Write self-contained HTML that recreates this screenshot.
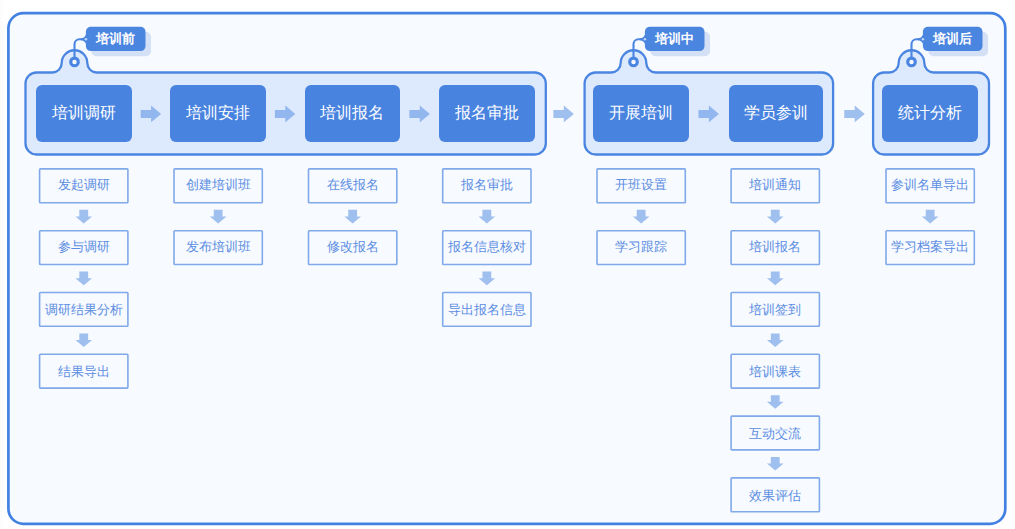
<!DOCTYPE html>
<html><head><meta charset="utf-8"><style>
html,body{margin:0;padding:0;background:#ffffff;}
body{width:1015px;height:529px;position:relative;overflow:hidden;font-family:"Liberation Sans",sans-serif;}
#wrap{position:absolute;left:0;top:0;width:1015px;height:529px;}
svg{position:absolute;left:0;top:0;}
.mb,.sb,.tag{position:absolute;box-sizing:border-box;text-align:center;white-space:nowrap;}
.mb{background:#4883df;color:#fff;font-size:16px;border-radius:6px;}
.sb{color:#5b8de2;font-size:13px;}
.tag{color:#fff;font-size:13px;font-weight:bold;}
</style></head><body><div style="position:absolute;left:0;top:0;width:1px;height:529px;background:#fbfbfb"></div><div style="position:absolute;left:1px;top:0;width:2px;height:529px;background:#fdfdfd"></div><div id="wrap">
<svg width="1015" height="529" viewBox="0 0 1015 529"><defs><filter id="sh" x="-20%" y="-40%" width="140%" height="180%"><feGaussianBlur stdDeviation="0.6"/></filter></defs>
<rect x="8.4" y="13.2" width="996.9" height="510.59999999999997" rx="15" ry="15" fill="#f7faff" stroke="#4281e2" stroke-width="2.7"/>
<path d="M25.5,83.5 A11,11 0 0 1 36.5,72.5 L52.300000000000004,72.5 A9.4,9.4 0 0 0 61.7,63.1 A12.8,12.85 0 0 1 87.3,63.1 A9.4,9.4 0 0 0 96.7,72.5 L534.8,72.5 A11,11 0 0 1 545.8,83.5 L545.8,143.5 A11,11 0 0 1 534.8,154.5 L36.5,154.5 A11,11 0 0 1 25.5,143.5 Z" fill="#dde9fc" stroke="#4a86e1" stroke-width="2.3"/>
<circle cx="74.5" cy="61.9" r="3.8" fill="#f5f9ff" stroke="#4a86e1" stroke-width="3.1"/>
<path d="M74.5,56.9 L74.5,44.2 A5,5 0 0 1 79.5,39.2 L86.9,39.2" fill="none" stroke="#4a86e1" stroke-width="2.1"/>
<path d="M80.9,38.2 Q84.4,38.2 85.9,34.7 L87.9,34.7 L87.9,43.7 L85.9,43.7 Q84.4,40.2 80.9,40.2 Z" fill="#4a85e0"/>
<rect x="91.4" y="32.0" width="59.6" height="24.3" rx="5" fill="#d3e0f6" filter="url(#sh)"/>
<rect x="85.9" y="26.8" width="59.6" height="24.3" rx="5" fill="#4a85e0"/>
<circle cx="85.9" cy="39.2" r="1.3" fill="rgba(255,255,255,0.65)"/>
<path d="M584.6,83.5 A11,11 0 0 1 595.6,72.5 L611.3000000000001,72.5 A9.4,9.4 0 0 0 620.7,63.1 A12.8,12.85 0 0 1 646.3,63.1 A9.4,9.4 0 0 0 655.6999999999999,72.5 L822.1,72.5 A11,11 0 0 1 833.1,83.5 L833.1,143.5 A11,11 0 0 1 822.1,154.5 L595.6,154.5 A11,11 0 0 1 584.6,143.5 Z" fill="#dde9fc" stroke="#4a86e1" stroke-width="2.3"/>
<circle cx="633.5" cy="61.9" r="3.8" fill="#f5f9ff" stroke="#4a86e1" stroke-width="3.1"/>
<path d="M633.5,56.9 L633.5,44.2 A5,5 0 0 1 638.5,39.2 L645.9,39.2" fill="none" stroke="#4a86e1" stroke-width="2.1"/>
<path d="M639.9,38.2 Q643.4,38.2 644.9,34.7 L646.9,34.7 L646.9,43.7 L644.9,43.7 Q643.4,40.2 639.9,40.2 Z" fill="#4a85e0"/>
<rect x="650.4" y="32.0" width="59.6" height="24.3" rx="5" fill="#d3e0f6" filter="url(#sh)"/>
<rect x="644.9" y="26.8" width="59.6" height="24.3" rx="5" fill="#4a85e0"/>
<circle cx="644.9" cy="39.2" r="1.3" fill="rgba(255,255,255,0.65)"/>
<path d="M873.1,83.5 A11,11 0 0 1 884.1,72.5 L889.3000000000001,72.5 A9.4,9.4 0 0 0 898.7,63.1 A12.8,12.85 0 0 1 924.3,63.1 A9.4,9.4 0 0 0 933.6999999999999,72.5 L978.0,72.5 A11,11 0 0 1 989.0,83.5 L989.0,143.5 A11,11 0 0 1 978.0,154.5 L884.1,154.5 A11,11 0 0 1 873.1,143.5 Z" fill="#dde9fc" stroke="#4a86e1" stroke-width="2.3"/>
<circle cx="911.5" cy="61.9" r="3.8" fill="#f5f9ff" stroke="#4a86e1" stroke-width="3.1"/>
<path d="M911.5,56.9 L911.5,44.2 A5,5 0 0 1 916.5,39.2 L923.9,39.2" fill="none" stroke="#4a86e1" stroke-width="2.1"/>
<path d="M917.9,38.2 Q921.4,38.2 922.9,34.7 L924.9,34.7 L924.9,43.7 L922.9,43.7 Q921.4,40.2 917.9,40.2 Z" fill="#4a85e0"/>
<rect x="928.4" y="32.0" width="59.6" height="24.3" rx="5" fill="#d3e0f6" filter="url(#sh)"/>
<rect x="922.9" y="26.8" width="59.6" height="24.3" rx="5" fill="#4a85e0"/>
<circle cx="922.9" cy="39.2" r="1.3" fill="rgba(255,255,255,0.65)"/>
<path d="M140.7,109.9 L151.1,109.9 L151.1,105.60000000000001 L161.1,113.9 L151.1,122.2 L151.1,117.9 L140.7,117.9 Z" fill="rgba(72,131,223,0.5)"/>
<path d="M274.9,109.9 L285.29999999999995,109.9 L285.29999999999995,105.60000000000001 L295.29999999999995,113.9 L285.29999999999995,122.2 L285.29999999999995,117.9 L274.9,117.9 Z" fill="rgba(72,131,223,0.5)"/>
<path d="M409.4,109.9 L419.79999999999995,109.9 L419.79999999999995,105.60000000000001 L429.79999999999995,113.9 L419.79999999999995,122.2 L419.79999999999995,117.9 L409.4,117.9 Z" fill="rgba(72,131,223,0.5)"/>
<path d="M553.4,109.9 L563.8,109.9 L563.8,105.60000000000001 L573.8,113.9 L563.8,122.2 L563.8,117.9 L553.4,117.9 Z" fill="rgba(72,131,223,0.5)"/>
<path d="M698.5,109.9 L708.9,109.9 L708.9,105.60000000000001 L718.9,113.9 L708.9,122.2 L708.9,117.9 L698.5,117.9 Z" fill="rgba(72,131,223,0.5)"/>
<path d="M844.3,109.9 L854.6999999999999,109.9 L854.6999999999999,105.60000000000001 L864.6999999999999,113.9 L854.6999999999999,122.2 L854.6999999999999,117.9 L844.3,117.9 Z" fill="rgba(72,131,223,0.5)"/>
<rect x="39.6" y="168.89999999999998" width="88.3" height="33.8" rx="0.8" fill="none" stroke="#80a9ea" stroke-width="1.6"/>
<path d="M79.35,209.79999999999998 L88.15,209.79999999999998 L88.15,216.39999999999998 L92.05,216.39999999999998 L83.75,223.39999999999998 L75.45,216.39999999999998 L79.35,216.39999999999998 Z" fill="rgba(72,131,223,0.5)"/>
<rect x="39.6" y="230.7" width="88.3" height="33.8" rx="0.8" fill="none" stroke="#80a9ea" stroke-width="1.6"/>
<path d="M79.35,271.59999999999997 L88.15,271.59999999999997 L88.15,278.2 L92.05,278.2 L83.75,285.2 L75.45,278.2 L79.35,278.2 Z" fill="rgba(72,131,223,0.5)"/>
<rect x="39.6" y="292.49999999999994" width="88.3" height="33.8" rx="0.8" fill="none" stroke="#80a9ea" stroke-width="1.6"/>
<path d="M79.35,333.3999999999999 L88.15,333.3999999999999 L88.15,339.99999999999994 L92.05,339.99999999999994 L83.75,346.99999999999994 L75.45,339.99999999999994 L79.35,339.99999999999994 Z" fill="rgba(72,131,223,0.5)"/>
<rect x="39.6" y="354.29999999999995" width="88.3" height="33.8" rx="0.8" fill="none" stroke="#80a9ea" stroke-width="1.6"/>
<rect x="174.0" y="168.89999999999998" width="88.3" height="33.8" rx="0.8" fill="none" stroke="#80a9ea" stroke-width="1.6"/>
<path d="M213.75,209.79999999999998 L222.55,209.79999999999998 L222.55,216.39999999999998 L226.45000000000002,216.39999999999998 L218.15,223.39999999999998 L209.85,216.39999999999998 L213.75,216.39999999999998 Z" fill="rgba(72,131,223,0.5)"/>
<rect x="174.0" y="230.7" width="88.3" height="33.8" rx="0.8" fill="none" stroke="#80a9ea" stroke-width="1.6"/>
<rect x="308.5" y="168.89999999999998" width="88.3" height="33.8" rx="0.8" fill="none" stroke="#80a9ea" stroke-width="1.6"/>
<path d="M348.25,209.79999999999998 L357.04999999999995,209.79999999999998 L357.04999999999995,216.39999999999998 L360.95,216.39999999999998 L352.65,223.39999999999998 L344.34999999999997,216.39999999999998 L348.25,216.39999999999998 Z" fill="rgba(72,131,223,0.5)"/>
<rect x="308.5" y="230.7" width="88.3" height="33.8" rx="0.8" fill="none" stroke="#80a9ea" stroke-width="1.6"/>
<rect x="442.70000000000005" y="168.89999999999998" width="88.3" height="33.8" rx="0.8" fill="none" stroke="#80a9ea" stroke-width="1.6"/>
<path d="M482.45000000000005,209.79999999999998 L491.25,209.79999999999998 L491.25,216.39999999999998 L495.15000000000003,216.39999999999998 L486.85,223.39999999999998 L478.55,216.39999999999998 L482.45000000000005,216.39999999999998 Z" fill="rgba(72,131,223,0.5)"/>
<rect x="442.70000000000005" y="230.7" width="88.3" height="33.8" rx="0.8" fill="none" stroke="#80a9ea" stroke-width="1.6"/>
<path d="M482.45000000000005,271.59999999999997 L491.25,271.59999999999997 L491.25,278.2 L495.15000000000003,278.2 L486.85,285.2 L478.55,278.2 L482.45000000000005,278.2 Z" fill="rgba(72,131,223,0.5)"/>
<rect x="442.70000000000005" y="292.49999999999994" width="88.3" height="33.8" rx="0.8" fill="none" stroke="#80a9ea" stroke-width="1.6"/>
<rect x="597.0" y="168.89999999999998" width="88.3" height="33.8" rx="0.8" fill="none" stroke="#80a9ea" stroke-width="1.6"/>
<path d="M636.75,209.79999999999998 L645.55,209.79999999999998 L645.55,216.39999999999998 L649.4499999999999,216.39999999999998 L641.15,223.39999999999998 L632.85,216.39999999999998 L636.75,216.39999999999998 Z" fill="rgba(72,131,223,0.5)"/>
<rect x="597.0" y="230.7" width="88.3" height="33.8" rx="0.8" fill="none" stroke="#80a9ea" stroke-width="1.6"/>
<rect x="731.1" y="168.89999999999998" width="88.3" height="33.8" rx="0.8" fill="none" stroke="#80a9ea" stroke-width="1.6"/>
<path d="M770.85,209.79999999999998 L779.65,209.79999999999998 L779.65,216.39999999999998 L783.55,216.39999999999998 L775.25,223.39999999999998 L766.95,216.39999999999998 L770.85,216.39999999999998 Z" fill="rgba(72,131,223,0.5)"/>
<rect x="731.1" y="230.7" width="88.3" height="33.8" rx="0.8" fill="none" stroke="#80a9ea" stroke-width="1.6"/>
<path d="M770.85,271.59999999999997 L779.65,271.59999999999997 L779.65,278.2 L783.55,278.2 L775.25,285.2 L766.95,278.2 L770.85,278.2 Z" fill="rgba(72,131,223,0.5)"/>
<rect x="731.1" y="292.49999999999994" width="88.3" height="33.8" rx="0.8" fill="none" stroke="#80a9ea" stroke-width="1.6"/>
<path d="M770.85,333.3999999999999 L779.65,333.3999999999999 L779.65,339.99999999999994 L783.55,339.99999999999994 L775.25,346.99999999999994 L766.95,339.99999999999994 L770.85,339.99999999999994 Z" fill="rgba(72,131,223,0.5)"/>
<rect x="731.1" y="354.29999999999995" width="88.3" height="33.8" rx="0.8" fill="none" stroke="#80a9ea" stroke-width="1.6"/>
<path d="M770.85,395.19999999999993 L779.65,395.19999999999993 L779.65,401.79999999999995 L783.55,401.79999999999995 L775.25,408.79999999999995 L766.95,401.79999999999995 L770.85,401.79999999999995 Z" fill="rgba(72,131,223,0.5)"/>
<rect x="731.1" y="416.09999999999997" width="88.3" height="33.8" rx="0.8" fill="none" stroke="#80a9ea" stroke-width="1.6"/>
<path d="M770.85,456.99999999999994 L779.65,456.99999999999994 L779.65,463.59999999999997 L783.55,463.59999999999997 L775.25,470.59999999999997 L766.95,463.59999999999997 L770.85,463.59999999999997 Z" fill="rgba(72,131,223,0.5)"/>
<rect x="731.1" y="477.9" width="88.3" height="33.8" rx="0.8" fill="none" stroke="#80a9ea" stroke-width="1.6"/>
<rect x="886.0" y="168.89999999999998" width="88.3" height="33.8" rx="0.8" fill="none" stroke="#80a9ea" stroke-width="1.6"/>
<path d="M925.75,209.79999999999998 L934.55,209.79999999999998 L934.55,216.39999999999998 L938.4499999999999,216.39999999999998 L930.15,223.39999999999998 L921.85,216.39999999999998 L925.75,216.39999999999998 Z" fill="rgba(72,131,223,0.5)"/>
<rect x="886.0" y="230.7" width="88.3" height="33.8" rx="0.8" fill="none" stroke="#80a9ea" stroke-width="1.6"/>
</svg>
<div class="tag" style="left:85.9px;top:26.8px;width:59.6px;height:24.3px;line-height:24.3px">培训前</div>
<div class="tag" style="left:644.9px;top:26.8px;width:59.6px;height:24.3px;line-height:24.3px">培训中</div>
<div class="tag" style="left:922.9px;top:26.8px;width:59.6px;height:24.3px;line-height:24.3px">培训后</div>
<div class="mb" style="left:36.0px;top:84.9px;width:95.80000000000001px;height:57.599999999999994px;line-height:56.599999999999994px">培训调研</div>
<div class="mb" style="left:170.2px;top:84.9px;width:95.60000000000002px;height:57.599999999999994px;line-height:56.599999999999994px">培训安排</div>
<div class="mb" style="left:304.8px;top:84.9px;width:95.39999999999998px;height:57.599999999999994px;line-height:56.599999999999994px">培训报名</div>
<div class="mb" style="left:438.8px;top:84.9px;width:95.99999999999994px;height:57.599999999999994px;line-height:56.599999999999994px">报名审批</div>
<div class="mb" style="left:593.2px;top:84.9px;width:95.79999999999995px;height:57.599999999999994px;line-height:56.599999999999994px">开展培训</div>
<div class="mb" style="left:728.9px;top:84.9px;width:94.39999999999998px;height:57.599999999999994px;line-height:56.599999999999994px">学员参训</div>
<div class="mb" style="left:882.2px;top:84.9px;width:96.19999999999993px;height:57.599999999999994px;line-height:56.599999999999994px">统计分析</div>
<div class="sb" style="left:38.95px;top:170.30px;width:89.6px;height:32.0px;line-height:29.5px">发起调研</div>
<div class="sb" style="left:38.95px;top:232.45px;width:89.6px;height:32.0px;line-height:29.5px">参与调研</div>
<div class="sb" style="left:38.95px;top:294.60px;width:89.6px;height:32.0px;line-height:29.5px">调研结果分析</div>
<div class="sb" style="left:38.95px;top:356.75px;width:89.6px;height:32.0px;line-height:29.5px">结果导出</div>
<div class="sb" style="left:173.35000000000002px;top:170.30px;width:89.6px;height:32.0px;line-height:29.5px">创建培训班</div>
<div class="sb" style="left:173.35000000000002px;top:232.45px;width:89.6px;height:32.0px;line-height:29.5px">发布培训班</div>
<div class="sb" style="left:307.84999999999997px;top:170.30px;width:89.6px;height:32.0px;line-height:29.5px">在线报名</div>
<div class="sb" style="left:307.84999999999997px;top:232.45px;width:89.6px;height:32.0px;line-height:29.5px">修改报名</div>
<div class="sb" style="left:442.05px;top:170.30px;width:89.6px;height:32.0px;line-height:29.5px">报名审批</div>
<div class="sb" style="left:442.05px;top:232.45px;width:89.6px;height:32.0px;line-height:29.5px">报名信息核对</div>
<div class="sb" style="left:442.05px;top:294.60px;width:89.6px;height:32.0px;line-height:29.5px">导出报名信息</div>
<div class="sb" style="left:596.35px;top:170.30px;width:89.6px;height:32.0px;line-height:29.5px">开班设置</div>
<div class="sb" style="left:596.35px;top:232.45px;width:89.6px;height:32.0px;line-height:29.5px">学习跟踪</div>
<div class="sb" style="left:730.45px;top:170.30px;width:89.6px;height:32.0px;line-height:29.5px">培训通知</div>
<div class="sb" style="left:730.45px;top:232.45px;width:89.6px;height:32.0px;line-height:29.5px">培训报名</div>
<div class="sb" style="left:730.45px;top:294.60px;width:89.6px;height:32.0px;line-height:29.5px">培训签到</div>
<div class="sb" style="left:730.45px;top:356.75px;width:89.6px;height:32.0px;line-height:29.5px">培训课表</div>
<div class="sb" style="left:730.45px;top:418.90px;width:89.6px;height:32.0px;line-height:29.5px">互动交流</div>
<div class="sb" style="left:730.45px;top:481.05px;width:89.6px;height:32.0px;line-height:29.5px">效果评估</div>
<div class="sb" style="left:885.35px;top:170.30px;width:89.6px;height:32.0px;line-height:29.5px">参训名单导出</div>
<div class="sb" style="left:885.35px;top:232.45px;width:89.6px;height:32.0px;line-height:29.5px">学习档案导出</div>
</div></body></html>
